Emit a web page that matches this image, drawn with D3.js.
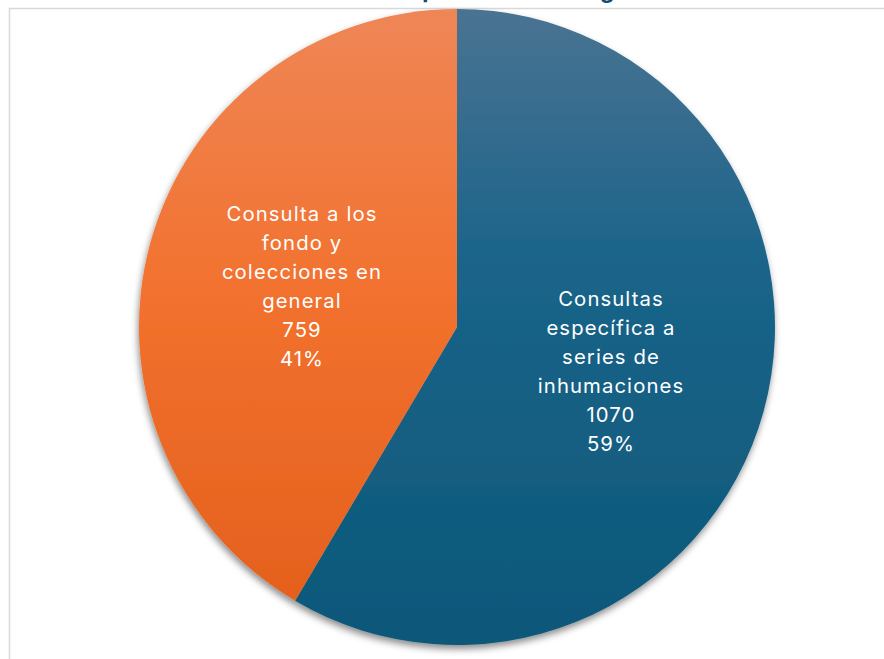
<!DOCTYPE html>
<html>
<head>
<meta charset="utf-8">
<script src="https://cdn.jsdelivr.net/npm/d3@7"></script>
<style>
  html, body { margin: 0; padding: 0; background: #fff; }
  svg { display: block; }
</style>
</head>
<body>
<svg id="chart" width="884" height="659"></svg>
<script>
// Query categories and counts
const categories = [
  "Consultas específica a series de inhumaciones",
  "Consulta a los fondo y colecciones en general"
];
const labelLines = [
  ["Consultas", "específica a", "series de", "inhumaciones"],
  ["Consulta a los", "fondo y", "colecciones en", "general"]
];
const values = [1070, 759];
const percentLabels = ["59%", "41%"];
const titleText = "Distribución de consultas por temática en general del año";

const W = 884, H = 659;
const cx = 457, cy = 327, R = 318;

const svg = d3.select("#chart");
const defs = svg.append("defs");

// vertical gradients for the two slices (coordinates relative to the pie centre)
const gradStops = [
  [["0%", "#4a7392"], ["40%", "#1b648a"], ["100%", "#0b5879"]],
  [["0%", "#ef8657"], ["45%", "#f2712e"], ["100%", "#e25e1b"]]
];
gradStops.forEach((stops, i) => {
  const g = defs.append("linearGradient")
    .attr("id", "grad" + i)
    .attr("gradientUnits", "userSpaceOnUse")
    .attr("x1", 0).attr("y1", -R)
    .attr("x2", 0).attr("y2", R);
  stops.forEach(([o, c]) => g.append("stop").attr("offset", o).attr("stop-color", c));
});

// soft drop shadow under the pie
const f = defs.append("filter").attr("id", "shadow")
  .attr("x", "-10%").attr("y", "-10%").attr("width", "120%").attr("height", "120%");
f.append("feDropShadow")
  .attr("dx", -1).attr("dy", 4).attr("stdDeviation", 3.5)
  .attr("flood-color", "#000").attr("flood-opacity", 0.45);

// title (sits mostly above the visible area)
svg.append("text")
  .attr("x", 452).attr("y", -2)
  .attr("text-anchor", "middle")
  .attr("font-family", "Inter, Roboto, sans-serif")
  .attr("font-weight", "bold")
  .attr("font-size", 22)
  .attr("textLength", 635)
  .attr("lengthAdjust", "spacingAndGlyphs")
  .attr("fill", "#0e4a6e")
  .text(titleText);

// chart frame
svg.append("rect")
  .attr("x", 9.5).attr("y", 8.5)
  .attr("width", W + 20).attr("height", H + 20)
  .attr("fill", "none")
  .attr("stroke", "#d9d9d9")
  .attr("stroke-width", 1.5);

const pie = d3.pie().sort(null).value(d => d);
const arcs = pie(values);
const arc = d3.arc().innerRadius(0).outerRadius(R);

const g = svg.append("g").attr("transform", `translate(${cx},${cy})`);

g.append("g").attr("filter", "url(#shadow)")
  .selectAll("path")
  .data(arcs)
  .join("path")
  .attr("d", arc)
  .attr("fill", (d, i) => `url(#grad${i})`);

// data labels: category, value, percent
const labelPos = [[154, -21], [-155, -106]];
const lineH = 29;
arcs.forEach((a, i) => {
  const lines = [...labelLines[i], String(values[i]), percentLabels[i]];
  const t = g.append("text")
    .attr("text-anchor", "middle")
    .attr("font-family", "Inter, 'Open Sans', sans-serif")
    .attr("font-size", 20.3)
    .attr("letter-spacing", 1.1)
    .attr("fill", "#ffffff");
  lines.forEach((ln, k) => {
    t.append("tspan")
      .attr("x", labelPos[i][0])
      .attr("y", labelPos[i][1] + k * lineH)
      .text(ln);
  });
});
</script>
</body>
</html>
